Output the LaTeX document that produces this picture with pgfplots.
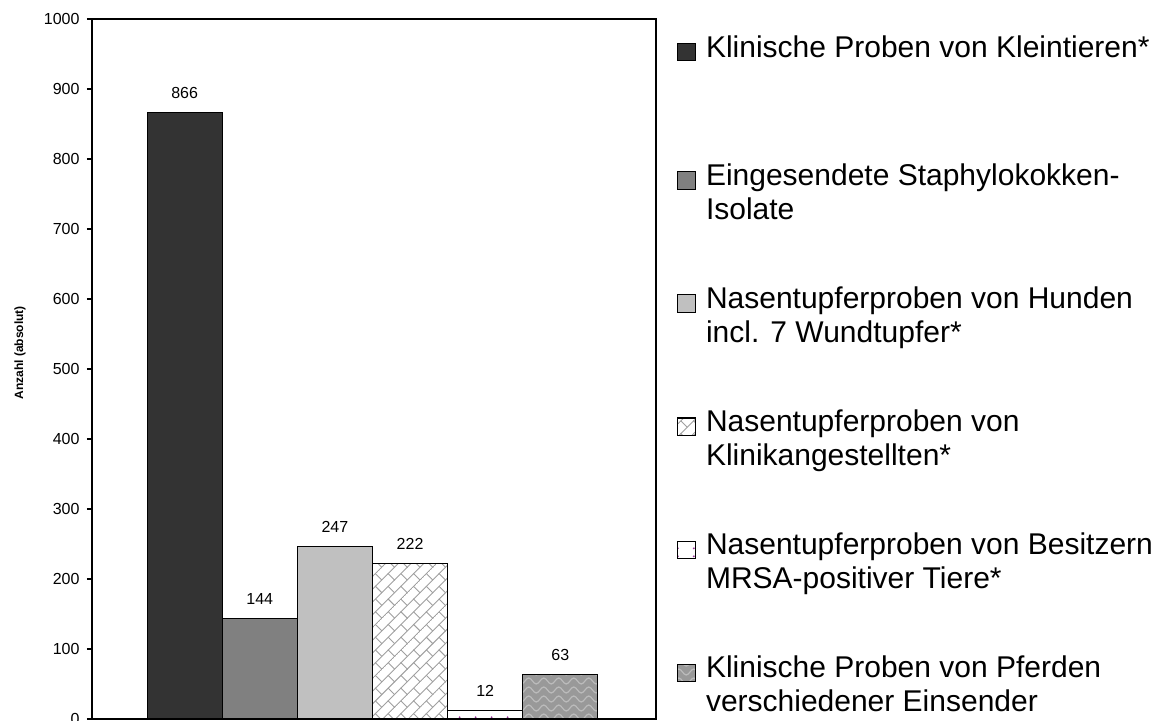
\documentclass[border=0pt]{standalone}
\usepackage{pgfplots}
\pgfplotsset{compat=1.18}
\usepackage{fontspec}
\setmainfont{Liberation Sans}
\usetikzlibrary{patterns.meta}

\definecolor{c1}{HTML}{333333}
\definecolor{c2}{HTML}{808080}
\definecolor{c3}{HTML}{C0C0C0}
\definecolor{c4}{HTML}{A0A0A0}
\definecolor{c5}{HTML}{993399}
\definecolor{c6}{HTML}{999999}
\definecolor{c6w}{HTML}{BBBBBB}

\tikzdeclarepattern{
  name=diagbricks,
  type=uncolored,
  bottom left={(-0.5pt,-0.5pt)},
  top right={(18.5pt,18.5pt)},
  tile size={(18pt,18pt)},
  tile transformation={rotate=45},
  code={
    \draw[line width=0.9pt] (-0.5pt,0pt) -- (18.5pt,0pt);
    \draw[line width=0.9pt] (-0.5pt,9pt) -- (18.5pt,9pt);
    \draw[line width=0.9pt] (0pt,0pt) -- (0pt,9pt);
    \draw[line width=0.9pt] (9pt,9pt) -- (9pt,18pt);
  }
}
\tikzdeclarepattern{
  name=sparsedots,
  type=uncolored,
  bottom left={(0pt,0pt)},
  top right={(15.6pt,8pt)},
  tile size={(15.6pt,8pt)},
  code={\fill (7.8pt,4pt) circle (1.1pt);}
}
\tikzdeclarepattern{
  name=waves,
  type=uncolored,
  bottom left={(-0.5pt,-1pt)},
  top right={(15.5pt,10pt)},
  tile size={(15pt,9pt)},
  code={\draw[line width=1.2pt] (0pt,3pt) sin (3.75pt,6pt) cos (7.5pt,3pt) sin (11.25pt,0pt) cos (15pt,3pt);}
}

\begin{document}
\begin{tikzpicture}
\begin{axis}[
  at={(92pt,1pt)}, anchor=south west,
  scale only axis, width=564pt, height=700pt,
  xmin=-1.233, xmax=6.273,
  ymin=0, ymax=1000,
  ytick={0,100,...,1000},
  xtick=\empty,
  ytick pos=left,
  tick align=outside,
  major tick length=5pt,
  axis line style={black, line width=1.1pt},
  every tick/.style={black, line width=1.1pt},
  /pgf/number format/assume math mode=true,
  /pgf/number format/1000 sep={},
  yticklabel style={font=\fontsize{16}{19}\selectfont, xshift=-4pt},
  ylabel={Anzahl (absolut)},
  ylabel style={font=\fontsize{12}{14}\selectfont\bfseries, at={(axis description cs:-0.1277,0.523)}, anchor=center},
  nodes near coords,
  every node near coord/.append style={font=\fontsize{16}{19}\selectfont, anchor=base, yshift=14pt, inner sep=0pt, black},
  legend style={at={(axis description cs:1,1)}, anchor=north west, xshift=21pt, yshift=-16.1pt,
    draw=none, fill=none, inner sep=0pt, row sep=65.7pt, column sep=10pt,
    font=\fontsize{30}{34}\selectfont,
    cells={anchor=north west},
    nodes={inner sep=0pt, align=left}},
  legend image code/.code={\draw[#1, line width=0.8pt] (0pt,-25.5pt) rectangle (18pt,-8.3pt);},
]
\addplot[ybar, bar width=1, draw=black, line width=1.1pt, fill=c1] coordinates {(0,866)};
\addlegendentry{Klinische Proben von Kleintieren*\\[5pt]\strut}
\addplot[ybar, bar width=1, draw=black, line width=1.1pt, fill=c2] coordinates {(1,144)};
\addlegendentry{Eingesendete Staphylokokken-\\Isolate\strut}
\addplot[ybar, bar width=1, draw=black, line width=1.1pt, fill=c3] coordinates {(2,247)};
\addlegendentry{Nasentupferproben von Hunden\\incl. 7 Wundtupfer*\strut}
\addplot[ybar, bar width=1, draw=black, line width=1.1pt, preaction={fill=white}, pattern=diagbricks, pattern color=c4] coordinates {(3,222)};
\addlegendentry{Nasentupferproben von\\Klinikangestellten*\strut}
\addplot[ybar, bar width=1, draw=black, line width=1.1pt, preaction={fill=white}, pattern=sparsedots, pattern color=c5] coordinates {(4,12)};
\addlegendentry{Nasentupferproben von Besitzern\\MRSA-positiver Tiere*\strut}
\addplot[ybar, bar width=1, draw=black, line width=1.1pt, preaction={fill=c6}, pattern=waves, pattern color=c6w] coordinates {(5,63)};
\addlegendentry{Klinische Proben von Pferden\\verschiedener Einsender\strut}
\end{axis}
\pgfresetboundingbox
\path (0,0) rectangle (1161pt,720pt);
\end{tikzpicture}
\end{document}
